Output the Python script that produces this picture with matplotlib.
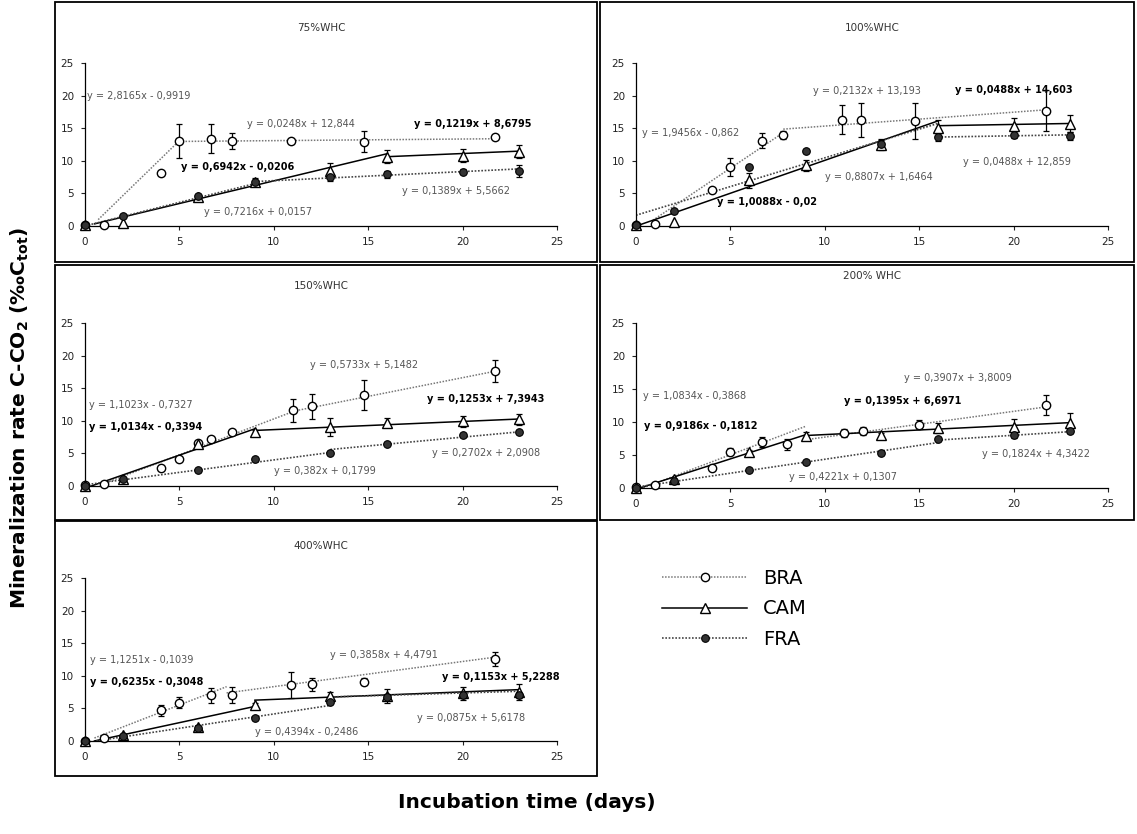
import numpy as np
import matplotlib.pyplot as plt
from matplotlib.lines import Line2D
from matplotlib.patches import Rectangle

# Figure size in pixels (dpi 100)
W, H = 1137, 834

titles = ["75%WHC", "100%WHC", "150%WHC", "200% WHC", "400%WHC"]
soils = ["BRA", "CAM", "FRA"]

# ---- 75% WHC
bra75_x = [0, 1, 4, 5, 6.7, 7.8, 10.9, 14.8, 21.7]
bra75_y = [0.2, 0.2, 8.2, 13.1, 13.4, 13.0, 13.1, 12.9, 13.7]
bra75_e = [0, 0, 0, 2.6, 2.2, 1.2, 0, 1.6, 0]
cam75_x = [0, 2, 6, 9, 13, 16, 20, 23]
cam75_y = [0.1, 0.4, 4.5, 6.8, 8.5, 10.6, 10.8, 11.4]
cam75_e = [0, 0, 0.3, 0.5, 1.2, 1.0, 1.0, 1.0]
fra75_x = [0, 2, 6, 9, 13, 16, 20, 23]
fra75_y = [0.1, 1.6, 4.6, 6.7, 7.5, 7.9, 8.3, 8.4]
fra75_e = [0, 0.2, 0.2, 0.3, 0.6, 0.6, 0.4, 0.9]

# ---- 100% WHC
bra100_x = [0, 1, 4, 5, 6.7, 7.8, 10.9, 11.9, 14.8, 21.7]
bra100_y = [0.2, 0.3, 5.5, 9.0, 13.1, 13.9, 16.3, 16.2, 16.1, 17.7]
bra100_e = [0, 0, 0.3, 1.4, 1.2, 0.6, 2.2, 2.6, 2.8, 3.1]
cam100_x = [0, 2, 6, 9, 13, 16, 20, 23]
cam100_y = [0.1, 0.6, 7.0, 9.3, 12.5, 15.1, 15.4, 15.7]
cam100_e = [0, 0, 1.2, 0.8, 0.8, 1.1, 1.2, 1.3]
fra100_x = [0, 2, 6, 9, 13, 16, 20, 23]
fra100_y = [0.1, 2.3, 9.0, 11.5, 12.6, 13.6, 14.0, 13.8]
fra100_e = [0, 0.2, 0.3, 0.3, 0.6, 0.6, 0.5, 0.6]

# ---- 150% WHC
bra150_x = [0, 1, 4, 5, 6, 6.7, 7.8, 11, 12, 14.8, 21.7]
bra150_y = [0.1, 0.3, 2.7, 4.1, 6.6, 7.2, 8.3, 11.6, 12.2, 13.9, 17.6]
bra150_e = [0, 0, 0, 0, 0, 0, 0, 1.8, 1.9, 2.3, 1.7]
cam150_x = [0, 2, 6, 9, 13, 16, 20, 23]
cam150_y = [0, 1.0, 6.5, 8.3, 9.0, 9.7, 9.9, 10.2]
cam150_e = [0, 0, 0, 0.3, 1.4, 0.7, 0.8, 0.8]
fra150_x = [0, 2, 6, 9, 13, 16, 20, 23]
fra150_y = [0, 1.0, 2.4, 4.1, 5.1, 6.5, 7.8, 8.3]
fra150_e = [0, 0.1, 0.2, 0.2, 0.2, 0.2, 0.3, 0.3]

# ---- 200% WHC
bra200_x = [0, 1, 4, 5, 6.7, 8, 11, 12, 15, 21.7]
bra200_y = [0.2, 0.4, 3.1, 5.5, 7.0, 6.6, 8.3, 8.6, 9.6, 12.6]
bra200_e = [0, 0, 0, 0.5, 0.8, 0.9, 0.6, 0.6, 0.7, 1.5]
cam200_x = [0, 2, 6, 9, 13, 16, 20, 23]
cam200_y = [0, 1.3, 5.4, 7.9, 8.0, 9.1, 9.3, 9.9]
cam200_e = [0, 0, 0.3, 0.6, 0.4, 0.8, 1.2, 1.5]
fra200_x = [0, 2, 6, 9, 13, 16, 20, 23]
fra200_y = [0, 1.1, 2.7, 3.9, 5.3, 7.4, 8.0, 8.7]
fra200_e = [0, 0, 0.2, 0.2, 0.3, 0.3, 0.4, 0.3]

# ---- 400% WHC
bra400_x = [0, 1, 4, 5, 6.7, 7.8, 10.9, 12, 14.8, 21.7]
bra400_y = [0, 0.4, 4.7, 5.9, 7.0, 7.1, 8.6, 8.7, 9.1, 12.6]
bra400_e = [0, 0, 0.8, 0.8, 1.1, 1.2, 2.0, 1.0, 0.5, 1.1]
cam400_x = [0, 2, 6, 9, 13, 16, 20, 23]
cam400_y = [0, 0.9, 2.2, 5.5, 6.9, 6.9, 7.3, 7.5]
cam400_e = [0, 0, 0, 0.3, 0.6, 1.0, 1.0, 1.2]
fra400_x = [0, 2, 6, 9, 13, 16, 20, 23]
fra400_y = [0, 0.7, 2.0, 3.5, 6.0, 6.8, 7.0, 7.0]
fra400_e = [0, 0, 0.3, 0.3, 0.4, 0.4, 0.4, 0.4]

# trendline equations printed on the chart (soil, slope, intercept)
eq75 = [("BRA", "2,8165", "-0,9919"), ("BRA", "0,0248", "12,844"),
        ("CAM", "0,6942", "-0,0206"), ("CAM", "0,1219", "8,6795"),
        ("FRA", "0,7216", "0,0157"), ("FRA", "0,1389", "5,5662")]
eq100 = [("BRA", "1,9456", "-0,862"), ("BRA", "0,2132", "13,193"),
         ("CAM", "1,0088", "-0,02"), ("CAM", "0,0488", "14,603"),
         ("FRA", "0,8807", "1,6464"), ("FRA", "0,0488", "12,859")]
eq150 = [("BRA", "1,1023", "-0,7327"), ("BRA", "0,5733", "5,1482"),
         ("CAM", "1,0134", "-0,3394"), ("CAM", "0,1253", "7,3943"),
         ("FRA", "0,382", "0,1799"), ("FRA", "0,2702", "2,0908")]
eq200 = [("BRA", "1,0834", "-0,3868"), ("BRA", "0,3907", "3,8009"),
         ("CAM", "0,9186", "-0,1812"), ("CAM", "0,1395", "6,6971"),
         ("FRA", "0,4221", "0,1307"), ("FRA", "0,1824", "4,3422")]
eq400 = [("BRA", "1,1251", "-0,1039"), ("BRA", "0,3858", "4,4791"),
         ("CAM", "0,6235", "-0,3048"), ("CAM", "0,1153", "5,2288"),
         ("FRA", "0,4394", "-0,2486"), ("FRA", "0,0875", "5,6178")]

# x-range (days) covered by each trendline
rng75 = [(0.7, 5), (5, 21.7), (0.5, 16), (16, 23), (0, 9), (9, 23)]
rng100 = [(0.9, 7.8), (7.8, 21.7), (0, 16), (16, 23), (0, 16), (16, 23)]
rng150 = [(1, 11), (11, 21.7), (0.3, 9), (9, 23), (0, 13), (13, 23)]
rng200 = [(0.4, 9), (9, 21.7), (0.2, 9), (9, 23), (0, 16), (16, 23)]
rng400 = [(0.5, 7.5), (7.5, 21.7), (0.5, 9), (9, 23), (0.6, 13), (13, 23)]

# where the equation texts sit (data coords)
lab75 = [(0.1, 20), (8.6, 15.7), (5.1, 9.0), (17.4, 15.7), (6.3, 2.1), (16.8, 5.4)]
lab100 = [(0.3, 14.3), (9.4, 20.7), (4.3, 3.7), (16.9, 20.9), (10.0, 7.5), (17.3, 9.8)]
lab150 = [(0.2, 12.5), (11.9, 18.5), (0.2, 9.0), (18.1, 13.4), (10.0, 2.3), (18.4, 5.1)]
lab200 = [(0.35, 13.9), (14.2, 16.7), (0.45, 9.4), (11.0, 13.2), (8.1, 1.7), (18.3, 5.2)]
lab400 = [(0.25, 12.4), (13.0, 13.2), (0.25, 9.0), (18.9, 9.8), (9.0, 1.4), (17.6, 3.5)]

panels = [
    {"BRA": (bra75_x, bra75_y, bra75_e), "CAM": (cam75_x, cam75_y, cam75_e),
     "FRA": (fra75_x, fra75_y, fra75_e), "eq": eq75, "rng": rng75, "lab": lab75},
    {"BRA": (bra100_x, bra100_y, bra100_e), "CAM": (cam100_x, cam100_y, cam100_e),
     "FRA": (fra100_x, fra100_y, fra100_e), "eq": eq100, "rng": rng100, "lab": lab100},
    {"BRA": (bra150_x, bra150_y, bra150_e), "CAM": (cam150_x, cam150_y, cam150_e),
     "FRA": (fra150_x, fra150_y, fra150_e), "eq": eq150, "rng": rng150, "lab": lab150},
    {"BRA": (bra200_x, bra200_y, bra200_e), "CAM": (cam200_x, cam200_y, cam200_e),
     "FRA": (fra200_x, fra200_y, fra200_e), "eq": eq200, "rng": rng200, "lab": lab200},
    {"BRA": (bra400_x, bra400_y, bra400_e), "CAM": (cam400_x, cam400_y, cam400_e),
     "FRA": (fra400_x, fra400_y, fra400_e), "eq": eq400, "rng": rng400, "lab": lab400},
]

# pixel layout: axes (left, top, right, bottom), frames, titles
axes_px = [(85, 63, 557, 226), (636, 63, 1108, 226), (85, 323, 557, 486),
           (636, 323, 1108, 488), (85, 578, 557, 741)]
frames_px = [(55, 2, 597, 262), (600, 2, 1134, 262), (55, 265, 597, 520),
             (600, 265, 1134, 520), (55, 521, 597, 776)]
title_px = [(321, 28), (872, 28), (321, 286), (872, 276), (321, 546)]

styles = {
    "BRA": dict(marker="o", ms=6, mfc="white", mec="black", mew=1.0),
    "CAM": dict(marker="^", ms=6.5, mfc="white", mec="black", mew=1.0),
    "FRA": dict(marker="o", ms=5.5, mfc="#333333", mec="black", mew=0.8),
}
lines = {
    "BRA": dict(color="#777777", ls=(0, (1, 1)), lw=1.1),
    "CAM": dict(color="black", ls="-", lw=1.1),
    "FRA": dict(color="#444444", ls=(0, (1, 1)), lw=1.2),
}


def num(s):
    return float(s.replace(",", "."))


def eq_text(m, b):
    sign = "-" if b.startswith("-") else "+"
    return f"y = {m}x {sign} {b.lstrip('-')}"


fig = plt.figure(figsize=(W / 100, H / 100), dpi=100)

for i, p in enumerate(panels):
    l, t, r, b = axes_px[i]
    ax = fig.add_axes([l / W, 1 - b / H, (r - l) / W, (b - t) / H])

    # trendlines
    for (soil, m, c), (x0, x1) in zip(p["eq"], p["rng"]):
        xs = np.array([x0, x1])
        ax.plot(xs, num(m) * xs + num(c), **lines[soil], zorder=2)

    # data points with error bars
    for soil in soils:
        x, y, e = (np.array(v, dtype=float) for v in p[soil])
        k = e > 0
        ax.errorbar(x[k], y[k], yerr=e[k], fmt="none", ecolor="black",
                    elinewidth=0.9, capsize=2.5, capthick=0.9, zorder=3)
        ax.plot(x, y, ls="none", clip_on=False, zorder=4, **styles[soil])

    # equation labels
    for (soil, m, c), (tx, ty) in zip(p["eq"], p["lab"]):
        if soil == "CAM":
            ax.text(tx, ty, eq_text(m, c), fontsize=7, fontweight="bold",
                    color="black", va="center", ha="left", clip_on=False)
        else:
            ax.text(tx, ty, eq_text(m, c), fontsize=7, color="#555555",
                    va="center", ha="left", clip_on=False)

    ax.set_xlim(0, 25)
    ax.set_ylim(0, 25)
    ax.set_xticks(range(0, 26, 5))
    ax.set_yticks(range(0, 26, 5))
    ax.spines["top"].set_visible(False)
    ax.spines["right"].set_visible(False)
    ax.spines["left"].set_linewidth(0.9)
    ax.spines["bottom"].set_linewidth(0.9)
    ax.tick_params(length=3, width=0.8, labelsize=7.5, colors="#222222", pad=5)
    ax.patch.set_alpha(0)

    # panel frame and title
    fl, ft, fr, fb = frames_px[i]
    fig.add_artist(Rectangle((fl / W, 1 - fb / H), (fr - fl) / W, (fb - ft) / H,
                             transform=fig.transFigure, fill=False,
                             ec="black", lw=1.3))
    tx, ty = title_px[i]
    fig.text(tx / W, 1 - ty / H, titles[i], fontsize=7.5, color="#333333",
             ha="center", va="center")

# legend
handles = [Line2D([], [], **lines[s], **styles[s]) for s in soils]
fig.legend(handles, soils, loc="center left",
           bbox_to_anchor=(652 / W, 1 - 609 / H), frameon=False,
           fontsize=14, handlelength=4.4, handletextpad=0.8,
           labelspacing=0.6, borderpad=0)

fig.text(20 / W, 1 - 418 / H,
         r"Mineralization rate C-CO$_\mathbf{2}$ (‰C$_\mathbf{tot}$)",
         rotation=90, fontsize=14.5, fontweight="bold", ha="center", va="center")
fig.text(527 / W, 1 - 803 / H, "Incubation time (days)",
         fontsize=14.5, fontweight="bold", ha="center", va="center")

fig.savefig("out.png", dpi=100)
